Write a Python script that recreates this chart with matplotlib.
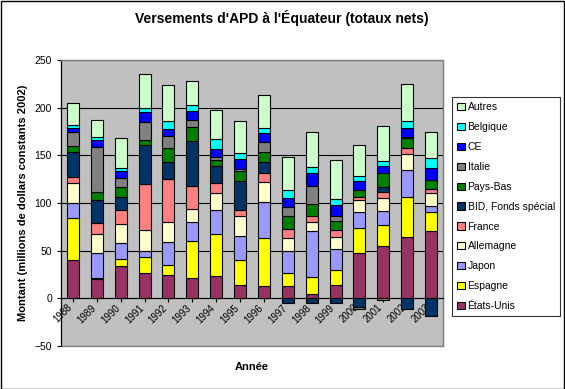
import matplotlib
matplotlib.use("Agg")
import matplotlib.pyplot as plt
import matplotlib.transforms as mtrans
import numpy as np
from matplotlib.patches import Rectangle

plt.rcParams['font.family'] = ['Liberation Sans', 'DejaVu Sans']

years = [str(y) for y in range(1988, 2004)]

# series, in stacking order (bottom -> top)
etats_unis = [40.6, 20.3, 34.3, 26.9, 24.8, 21.7, 23.8, 14.3, 13.3, 13.3, 4.2, 14.3, 47.9, 54.9, 64.3, 71.0]
espagne = [44.0, 1.4, 7.0, 16.8, 10.5, 38.8, 44.0, 26.3, 50.3, 13.6, 18.5, 15.8, 26.2, 21.7, 42.3, 19.6]
japon = [15.4, 26.2, 17.1, 6.0, 24.1, 19.9, 25.2, 24.8, 37.8, 22.8, 48.3, 22.0, 16.5, 15.4, 28.4, 6.6]
allemagne = [21.3, 19.9, 19.9, 22.3, 21.0, 13.7, 17.8, 21.3, 21.0, 13.9, 9.1, 12.2, 12.2, 13.6, 16.7, 13.6]
france = [6.3, 11.2, 14.4, 48.3, 45.1, 23.4, 10.5, 6.0, 9.4, 9.1, 6.3, 7.0, 3.8, 5.9, 6.0, 4.2]
bid = [26.0, 24.1, 13.9, 40.9, 17.9, 47.9, 17.5, 30.7, 11.2, -4.5, -4.5, -4.5, -8.7, 5.3, -10.8, -18.9]
pays_bas = [6.5, 8.4, 9.8, 5.2, 14.6, 14.7, 6.7, 10.5, 10.5, 14.0, 12.9, 9.8, 7.4, 15.0, 10.5, 9.1]
italie = [14.5, 47.2, 9.8, 18.9, 12.6, 7.3, 3.1, 2.1, 10.1, 9.5, 18.5, 5.3, -2.8, -1.5, 1.0, 0.0]
ce = [3.8, 7.3, 7.7, 9.8, 6.7, 8.8, 7.7, 9.8, 9.5, 9.4, 13.3, 11.9, 8.7, 6.7, 9.8, 13.0]
belgique = [3.9, 3.6, 2.8, 4.9, 8.4, 6.9, 11.2, 7.0, 5.9, 8.4, 7.0, 6.2, 6.0, 5.9, 7.4, 10.5]
autres = [23.0, 17.8, 31.8, 35.7, 38.4, 25.2, 30.4, 33.6, 34.6, 34.6, 36.7, 41.0, 32.1, 36.7, 38.8, 27.2]

series = [
    ("États-Unis", etats_unis, "#993366"),
    ("Espagne", espagne, "#FFFF00"),
    ("Japon", japon, "#9999FF"),
    ("Allemagne", allemagne, "#FFFFCC"),
    ("France", france, "#FF8080"),
    ("BID, Fonds spécial", bid, "#003366"),
    ("Pays-Bas", pays_bas, "#008000"),
    ("Italie", italie, "#808080"),
    ("CE", ce, "#0000FF"),
    ("Belgique", belgique, "#00FFFF"),
    ("Autres", autres, "#CCFFCC"),
]

fig = plt.figure(figsize=(5.65, 3.89), dpi=100)
ax = fig.add_axes([61 / 565, 1 - 346 / 389, (443 - 61) / 565, (346 - 60) / 389])
ax.set_facecolor("#C0C0C0")

x = np.arange(len(years))
pos = np.zeros(len(years))
neg = np.zeros(len(years))
handles = []
for name, vals, col in series:
    v = np.array(vals)
    bottoms = np.where(v >= 0, pos, neg)
    h = ax.bar(x, v, 0.5, bottom=bottoms, color=col, edgecolor="black",
               linewidth=0.8, label=name, zorder=3)
    pos = pos + np.where(v > 0, v, 0)
    neg = neg + np.where(v < 0, v, 0)
    handles.append(h)

# category axis crosses at zero, like the Excel original
for s in ["top", "right"]:
    ax.spines[s].set_color("#808080")
ax.spines["left"].set_color("black")
ax.spines["bottom"].set_position(("data", 0))
ax.spines["bottom"].set_color("black")
ax.spines["bottom"].set_zorder(4)
ax.patch.set_edgecolor("#808080")
ax.patch.set_linewidth(1.0)

ax.set_xlim(-0.5, len(years) - 0.5)
ax.set_ylim(-50, 250)
ax.set_yticks(range(-50, 251, 50))
ax.yaxis.grid(True, color="black", linewidth=0.8, zorder=1)
ax.set_axisbelow(True)

ax.set_xticks(x)
ax.set_xticklabels(years, fontsize=7)
ax.tick_params(axis="x", length=3, direction="out", pad=0)
shift = mtrans.ScaledTranslation(-6 / 100, 0, fig.dpi_scale_trans)
for lab in ax.get_xticklabels():
    lab.set_rotation(45)
    lab.set_ha("right")
    lab.set_va("top")
    lab.set_rotation_mode("anchor")
    lab.set_transform(lab.get_transform() + shift)
ax.tick_params(axis="y", labelsize=7.5, length=3)

ax.set_ylabel("Montant (millions de dollars constants 2002)", fontsize=8,
              fontweight="bold", labelpad=5)
fig.text(252 / 565, 1 - 367 / 389, "Année", fontsize=8, fontweight="bold",
         ha="center", va="center")
fig.text(282 / 565, 1 - 18 / 389, "Versements d'APD à l'Équateur (totaux nets)",
         fontsize=10, fontweight="bold", ha="center", va="center")

leg = fig.legend(handles[::-1], [s[0] for s in series][::-1], loc="upper left",
                 bbox_to_anchor=(452 / 565, 1 - 97 / 389), fontsize=7.5,
                 frameon=True, fancybox=False, handlelength=0.7,
                 handleheight=0.7, handletextpad=0.3, labelspacing=0.95,
                 borderpad=0.5, borderaxespad=0)
leg.get_frame().set_edgecolor("black")
leg.get_frame().set_linewidth(0.8)

fig.patches.append(Rectangle((0.001, 0.001), 0.997, 0.997, transform=fig.transFigure,
                             fill=False, edgecolor="black", linewidth=1))

fig.savefig("out.png", dpi=100)
